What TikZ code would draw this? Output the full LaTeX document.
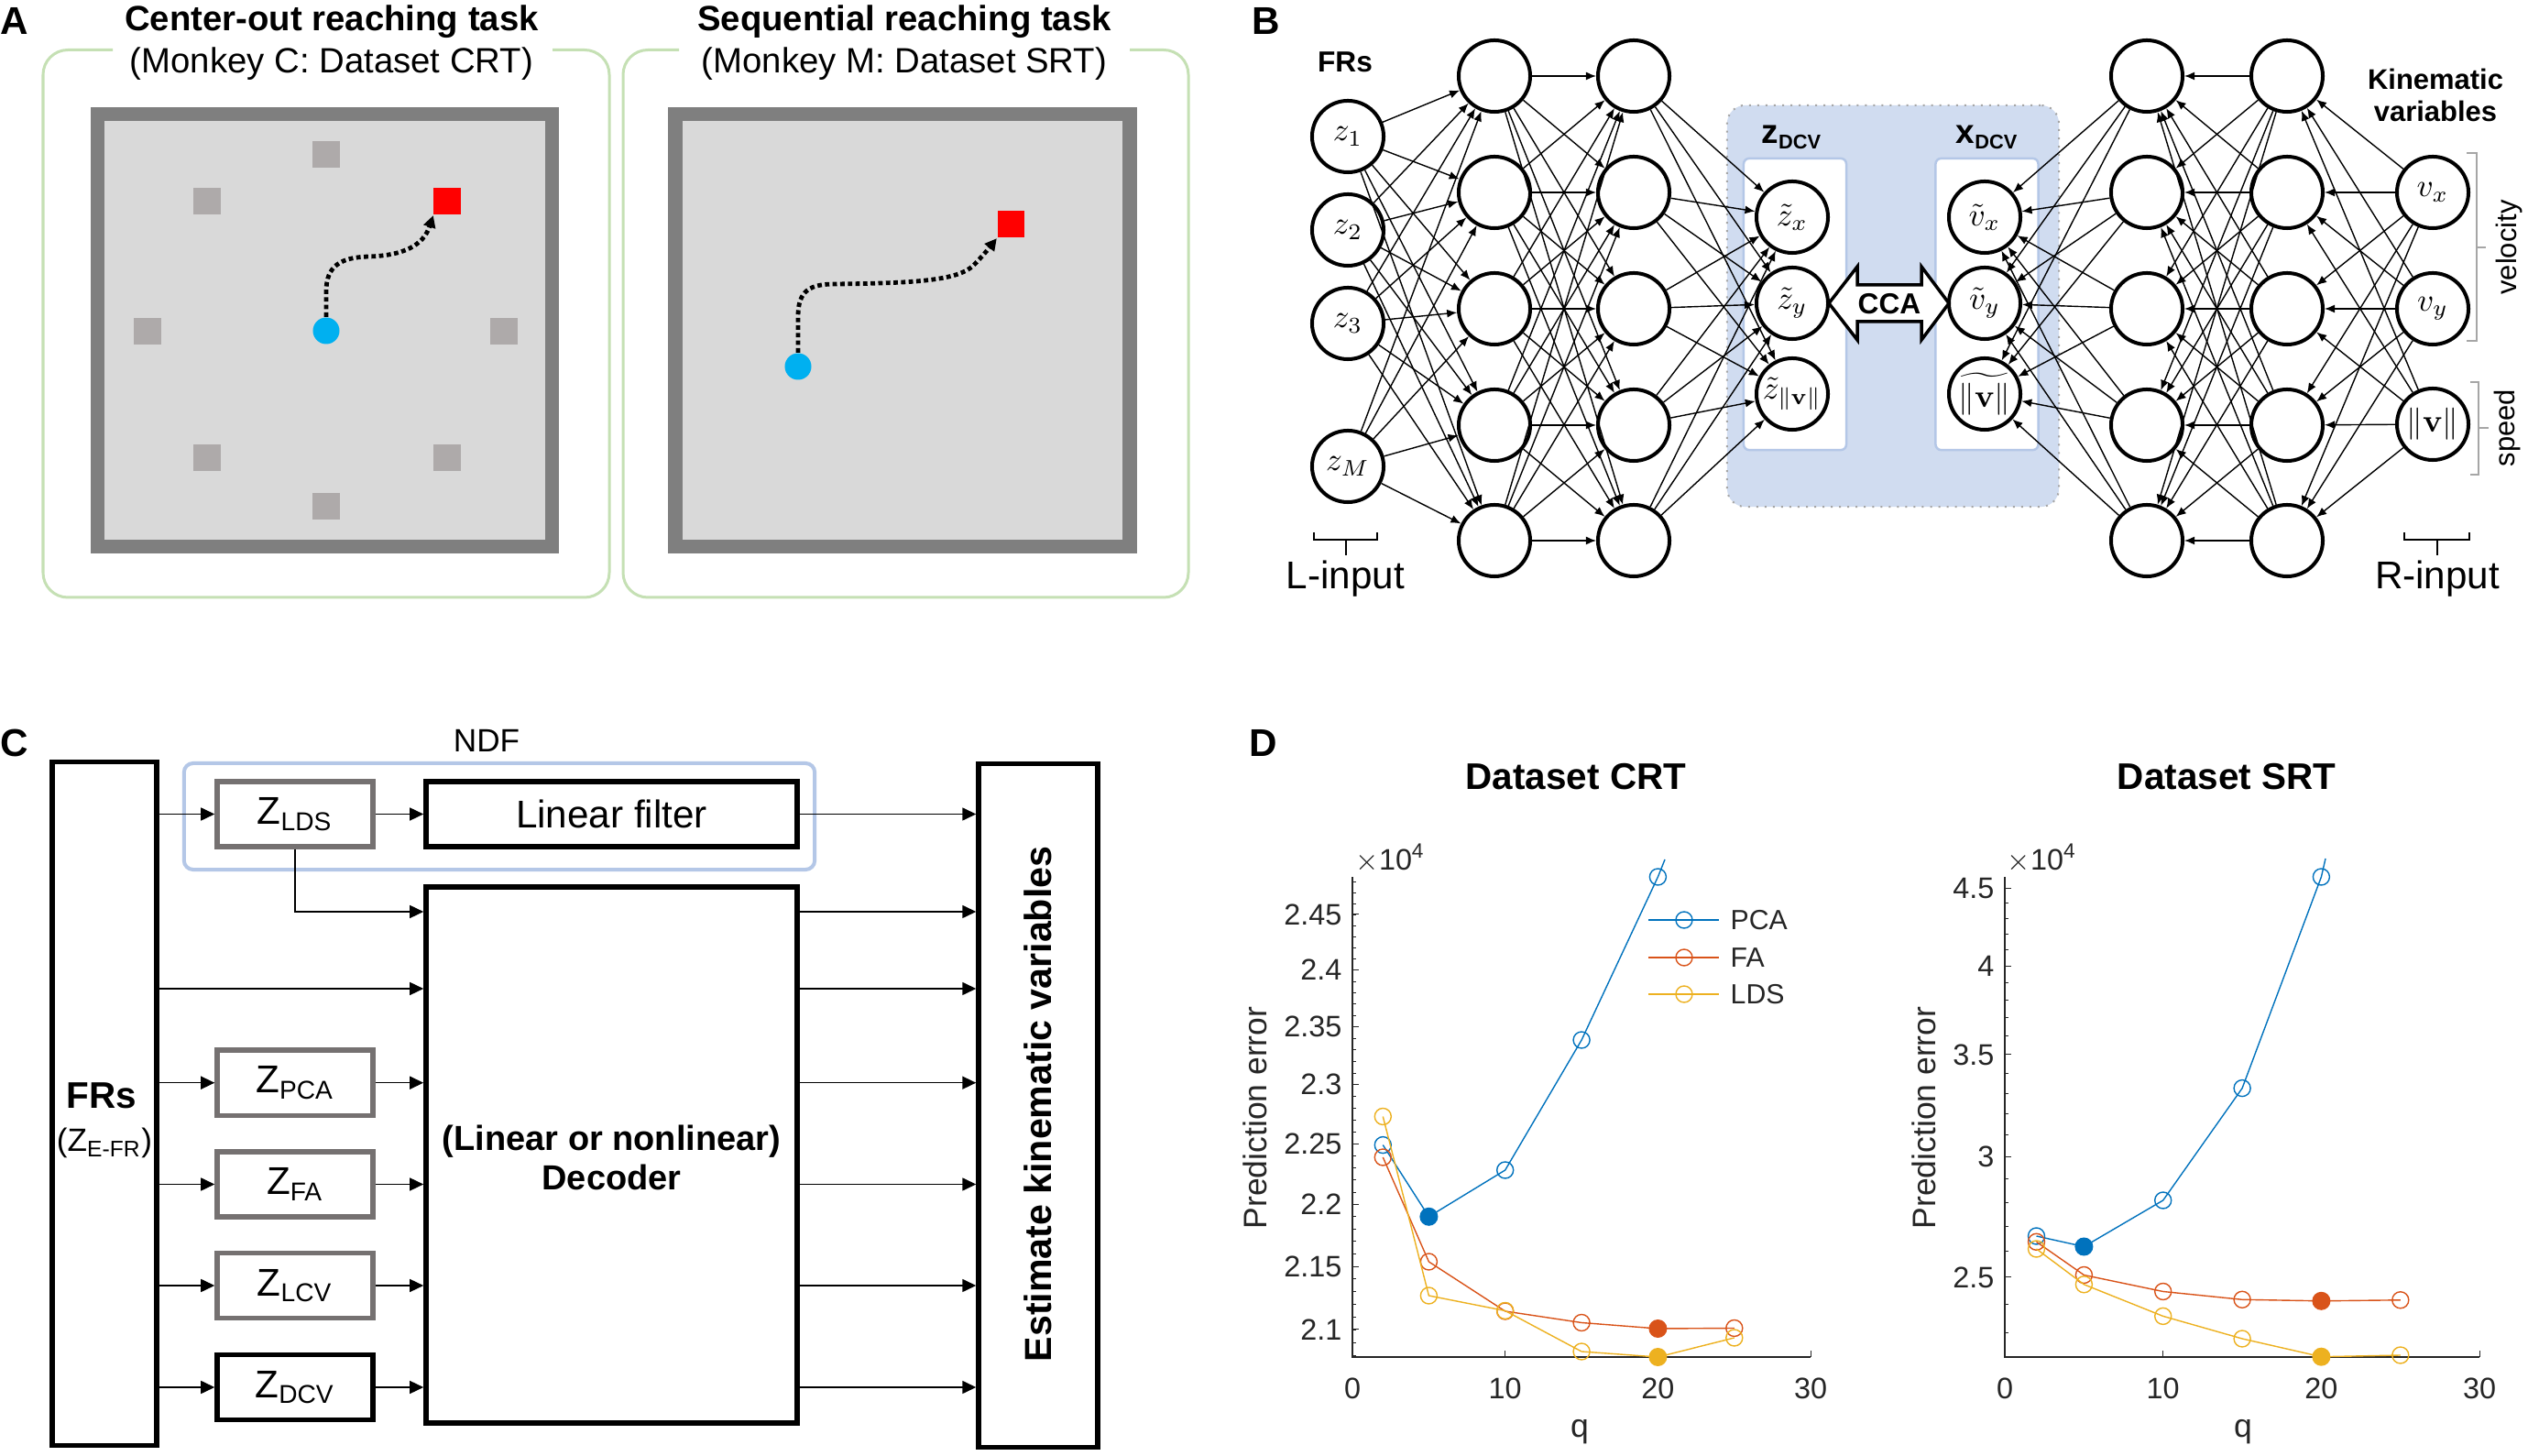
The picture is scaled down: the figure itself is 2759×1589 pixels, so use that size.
\documentclass[tikz,border=0pt]{standalone}
\usepackage[no-math]{fontspec}
\setmainfont{Liberation Sans}
\usetikzlibrary{arrows.meta}
\newcommand\setfs[1]{\fontsize{#1pt}{#1pt}\selectfont}
\definecolor{frameg}{HTML}{C5E0B4}
\definecolor{boxgray}{HTML}{7F7F7F}
\definecolor{fieldgray}{HTML}{D9D9D9}
\definecolor{tgtgray}{HTML}{AEAAAA}
\definecolor{cursorblue}{HTML}{00B0F0}
\definecolor{regionblue}{HTML}{D0DCF0}
\definecolor{edgeblue}{HTML}{B4C7E7}
\definecolor{zgray}{HTML}{757171}
\definecolor{brkgray}{HTML}{A6A6A6}
\definecolor{mpca}{HTML}{0072BD}
\definecolor{mfa}{HTML}{D95319}
\definecolor{mlds}{HTML}{EDB120}
\definecolor{axgray}{HTML}{262626}
\tikzset{
  panellbl/.style={anchor=base west, inner sep=0, font=\setfs{12}\bfseries},
  ttl/.style={anchor=base, inner sep=0, font=\setfs{10.9}\bfseries},
  subttl/.style={anchor=base, inner sep=0, font=\setfs{10.9}},
  frameline/.style={draw=frameg, line width=0.03cm, rounded corners=0.27cm},
  field/.style={draw=boxgray, fill=fieldgray, line width=0.156cm, minimum width=4.954cm, minimum height=4.714cm, inner sep=0},
  tgt/.style={fill=tgtgray, minimum size=0.29cm, inner sep=0},
  redtgt/.style={fill=red, minimum size=0.29cm, inner sep=0},
  cursor/.style={circle, fill=cursorblue, minimum size=0.29cm, inner sep=0},
  dotpath/.style={line width=0.048cm, dash pattern=on 0.048cm off 0.035cm, -{Triangle[length=0.13cm,width=0.13cm]}},
  neuron/.style={circle, draw, line width=0.04cm, fill=white, minimum size=0.78cm, inner sep=0, font=\setfs{10}},
  conn/.style={line width=0.014cm, -{Latex[length=0.11cm,width=0.09cm]}},
  region/.style={draw=gray!70, dotted, line width=0.02cm, fill=regionblue, rounded corners=0.2cm, inner sep=0, minimum width=3.62cm, minimum height=4.38cm},
  wbox/.style={draw=edgeblue, line width=0.025cm, fill=white, rounded corners=0.06cm, inner sep=0, minimum width=1.12cm, minimum height=3.18cm},
  brk/.style={line width=0.02cm},
  gbrk/.style={draw=brkgray, line width=0.02cm},
  zbox/.style={draw=zgray, line width=0.054cm, minimum width=1.70cm, minimum height=0.71cm, inner sep=0, font=\setfs{12}},
  bbox/.style={draw=black, line width=0.054cm, inner sep=0},
  arr/.style={line width=0.016cm, -{Triangle[length=0.15cm,width=0.14cm]}},
  tick/.style={draw=axgray, line width=0.01cm},
  ticklbl/.style={font=\setfs{9.2}, text=axgray, inner sep=0},
  dline/.style={line width=0.014cm},
}
\begin{document}
\begin{tikzpicture}[x=0.01cm,y=-0.01cm]
\path[use as bounding box, fill=white] (0,0) rectangle (2759,1589);

% ---------------- Panel labels
\node[panellbl] (labA) at (0,38) {A};
\node[panellbl] (labB) at (1366,38) {B};
\node[panellbl] (labC) at (0,826) {C};
\node[panellbl] (labD) at (1363,826) {D};

% ---------------- Panel A
\draw[frameline] (123,54.5) -- (47,54.5) -- (47,652) -- (665,652) -- (665,54.5) -- (603,54.5);
\draw[frameline] (741,54.5) -- (680,54.5) -- (680,652) -- (1297,652) -- (1297,54.5) -- (1233,54.5);
\node[ttl] (tA1) at (362,33.5) {Center-out reaching task};
\node[subttl] (tA2) at (362,79.5) {(Monkey C: Dataset CRT)};
\node[ttl] (tB1) at (987,33.5) {Sequential reaching task};
\node[subttl] (tB2) at (987,79.5) {(Monkey M: Dataset SRT)};
\node[field] (fieldL) at (354.5,360.5) {};
\node[field] (fieldR) at (985,360.5) {};
\node[tgt] (g1) at (356,169) {};
\node[tgt] (g2) at (226,220) {};
\node[tgt] (g3) at (161,362) {};
\node[tgt] (g4) at (550,362) {};
\node[tgt] (g5) at (226,500) {};
\node[tgt] (g6) at (488,500) {};
\node[tgt] (g7) at (356,553) {};
\node[redtgt] (redL) at (488,220) {};
\node[cursor] (curL) at (356,361) {};
\node[redtgt] (redR) at (1103,245) {};
\node[cursor] (curR) at (871,400) {};
\draw[dotpath] (curL.north) -- (356,318) .. controls (356,290) and (372,281) .. (402,280)
   .. controls (440,279) and (462,268) .. (redL.south west);
\draw[dotpath] (curR.north) -- (871,345) .. controls (871,316) and (885,310) .. (912,310)
   .. controls (1000,309) and (1045,306) .. (1062,290) .. controls (1072,280) and (1080,270) .. (redR.south west);

% ---------------- Panel B
\node[region] (dcv) at (2066,334) {};
\node[wbox] (zwb) at (1959,332) {};
\node[wbox] (xwb) at (2168.5,332) {};
\node[inner sep=0] (zlab) at (1955,150) {\setfs{10.5}\bfseries z\raisebox{-1.8pt}{\setfs{6.2}\bfseries DCV}};
\node[inner sep=0] (xlab) at (2168,150) {\setfs{10.5}\bfseries x\raisebox{-1.8pt}{\setfs{6.2}\bfseries DCV}};
\node[anchor=base, inner sep=0, font=\setfs{9}\bfseries] (frsB) at (1468,79) {FRs};
\node[align=center, inner sep=0, font=\fontsize{8.8pt}{10.2pt}\selectfont\bfseries] (kin) at (2658,104) {Kinematic\\variables};

\node[neuron] (in1) at (1471,149) {$z_1$};
\node[neuron] (in2) at (1471,251) {$z_2$};
\node[neuron] (in3) at (1471,353) {$z_3$};
\node[neuron] (in4) at (1471,509) {$z_M$};
\foreach \i/\y in {1/83,2/210,3/337,4/464,5/590} {
  \node[neuron] (a\i) at (1631,\y) {};
  \node[neuron] (b\i) at (1783,\y) {};
  \node[neuron] (c\i) at (2343,\y) {};
  \node[neuron] (d\i) at (2496,\y) {};
}
\node[neuron] (zd1) at (1956,237) {$\tilde{z}_x$};
\node[neuron] (zd2) at (1956,331) {$\tilde{z}_y$};
\node[neuron] (zd3) at (1956,430) {$\tilde{z}_{\|\mathbf{v}\|}$};
\node[neuron] (xd1) at (2166,237) {$\tilde{v}_x$};
\node[neuron] (xd2) at (2166,331) {$\tilde{v}_y$};
\node[neuron] (xd3) at (2166,430) {$\widetilde{\|\mathbf{v}\|}$};
\node[neuron] (o1) at (2655,210) {$v_x$};
\node[neuron] (o2) at (2655,337) {$v_y$};
\node[neuron] (o3) at (2655,463) {$\|\mathbf{v}\|$};

\foreach \i in {1,...,4} \foreach \j in {1,...,5} \draw[conn] (in\i) -- (a\j);
\foreach \i in {1,...,5} \foreach \j in {1,...,5} \draw[conn] (a\i) -- (b\j);
\foreach \i in {1,...,5} \foreach \j in {1,2,3} \draw[conn] (b\i) -- (zd\j);
\foreach \i in {1,2,3} \foreach \j in {1,...,5} \draw[conn] (o\i) -- (d\j);
\foreach \i in {1,...,5} \foreach \j in {1,...,5} \draw[conn] (d\i) -- (c\j);
\foreach \i in {1,...,5} \foreach \j in {1,2,3} \draw[conn] (c\i) -- (xd\j);

\draw[line width=0.035cm, fill=white] (1996,331) -- (2027,291) -- (2027,311) -- (2097,311) -- (2097,291)
  -- (2127,331) -- (2097,371) -- (2097,351) -- (2027,351) -- (2027,371) -- cycle;
\node[inner sep=0, font=\setfs{9}\bfseries] (cca) at (2062,332) {CCA};

\draw[brk] (1434,581) -- (1434,589) -- (1503,589) -- (1503,581);
\draw[brk] (1468.5,589) -- (1468.5,606);
\node[anchor=base, inner sep=0, font=\setfs{12}] (lin) at (1468.5,643) {L-input};
\draw[brk] (2624,581) -- (2624,589) -- (2695,589) -- (2695,581);
\draw[brk] (2659.5,589) -- (2659.5,606);
\node[anchor=base, inner sep=0, font=\setfs{12}] (rin) at (2660,643) {R-input};
\draw[gbrk] (2692,167) -- (2703,167) -- (2703,372) -- (2692,372);
\draw[gbrk] (2703,270) -- (2713,270);
\node[rotate=90, inner sep=0, font=\setfs{8.8}] (vel) at (2738,270) {velocity};
\draw[gbrk] (2696,417) -- (2705,417) -- (2705,518) -- (2696,518);
\draw[gbrk] (2705,467) -- (2716,467);
\node[rotate=90, inner sep=0, font=\setfs{8.8}] (spd) at (2736,467) {speed};

% ---------------- Panel C
\node[draw=edgeblue, line width=0.04cm, rounded corners=0.1cm, minimum width=6.88cm, minimum height=1.16cm, inner sep=0] (ndf) at (545,891) {};
\node[anchor=base, inner sep=0, font=\setfs{10}] (ndflbl) at (531,821) {NDF};
\node[bbox, minimum width=1.14cm, minimum height=7.45cm] (frs) at (114,1204.5) {};
\node[anchor=base, inner sep=0, font=\setfs{11.5}\bfseries] (frst) at (111,1210) {FRs};
\node[anchor=base, inner sep=0, font=\setfs{10}] (frsz) at (114,1257) {(Z\textsubscript{E-FR})};
\node[zbox] (zlds) at (322,888.5) {Z\textsubscript{LDS}};
\node[zbox] (zpca) at (322,1181.7) {Z\textsubscript{PCA}};
\node[zbox] (zfa) at (322,1292.5) {Z\textsubscript{FA}};
\node[zbox] (zlcv) at (322,1403) {Z\textsubscript{LCV}};
\node[zbox, draw=black] (zdcv) at (322,1514) {Z\textsubscript{DCV}};
\node[bbox, minimum width=4.05cm, minimum height=0.71cm, font=\setfs{12}] (linf) at (667.5,888.5) {Linear filter};
\node[bbox, minimum width=4.05cm, minimum height=5.85cm] (dec) at (667.5,1260.5) {};
\node[align=center, inner sep=0, font=\fontsize{10.8pt}{12.2pt}\selectfont\bfseries] (dect) at (667.5,1263) {(Linear or nonlinear)\\Decoder};
\node[bbox, minimum width=1.30cm, minimum height=7.45cm] (est) at (1133,1206.5) {};
\node[rotate=90, inner sep=0, font=\setfs{11.7}\bfseries] (estt) at (1133,1205) {Estimate kinematic variables};

\coordinate (yA) at (0,995);
\coordinate (yB) at (0,1079);
\foreach \z in {zlds,zpca,zfa,zlcv,zdcv} \draw[arr] (frs.east |- \z.west) -- (\z.west);
\draw[arr] (zlds.east) -- (linf.west);
\draw[arr] (linf.east) -- (est.west |- linf.east);
\draw[arr] (zlds.south) |- (dec.west |- yA);
\draw[arr] (frs.east |- yB) -- (dec.west |- yB);
\foreach \z in {zpca,zfa,zlcv,zdcv} {
  \draw[arr] (\z.east) -- (dec.west |- \z.east);
  \draw[arr] (dec.east |- \z.east) -- (est.west |- \z.east);
}
\draw[arr] (dec.east |- yA) -- (est.west |- yA);
\draw[arr] (dec.east |- yB) -- (est.west |- yB);

% ---------------- Panel D : CRT
\node[anchor=base, inner sep=0, font=\setfs{11.5}\bfseries] (ttlcrt) at (1720,862) {Dataset CRT};
\node[anchor=base, inner sep=0, font=\setfs{11.5}\bfseries] (ttlsrt) at (2430,862) {Dataset SRT};
\draw[axgray, line width=0.012cm] (1476,957) -- (1476,1481) -- (1976,1481);
\foreach \q in {0,10,20,30} {
  \draw[tick] ({1476+16.67*\q},1481) -- ({1476+16.67*\q},1474);
  \node[ticklbl, anchor=base] at ({1476+16.67*\q},1527) {\q};
}
\foreach \v in {2.08,2.09,...,2.485} {
  \pgfmathsetmacro\yy{1450.8-2939*ln(\v/2.1)}
  \draw[tick] (1476,\yy) -- (1480,\yy);
}
\foreach \v in {2.1,2.15,2.2,2.25,2.3,2.35,2.4,2.45} {
  \pgfmathsetmacro\yy{1450.8-2939*ln(\v/2.1)}
  \draw[tick] (1476,\yy) -- (1483,\yy);
  \node[ticklbl, anchor=east] at (1465,\yy) {\v};
}
\node[anchor=base west, inner sep=0, font=\setfs{9.2}, text=axgray] (xa) at (1479,950) {$\times$10\textsuperscript{4}};
\node[rotate=90, inner sep=0, font=\setfs{10.1}, text=axgray] (yla) at (1370,1220) {Prediction error};
\node[anchor=base, inner sep=0, font=\setfs{10.1}, text=axgray] (qla) at (1724,1569) {q};

\draw[mpca, dline] (1509.3,1249.6) -- (1559.4,1327.8) -- (1642.7,1277) -- (1726.1,1135) -- (1809.4,957) -- (1817,938);
\foreach \p in {{1509.3,1249.6},{1642.7,1277},{1726.1,1135},{1809.4,957}} \draw[mpca, dline] (\p) circle[radius=0.09cm];
\fill[mpca] (1559.4,1327.8) circle[radius=0.1cm];
\draw[mfa, dline] (1509.3,1263) -- (1559.4,1377) -- (1642.7,1431) -- (1726.1,1443.5) -- (1809.4,1450) -- (1892.8,1449.5);
\foreach \p in {{1509.3,1263},{1559.4,1377},{1642.7,1431},{1726.1,1443.5},{1892.8,1449.5}} \draw[mfa, dline] (\p) circle[radius=0.09cm];
\fill[mfa] (1809.4,1450) circle[radius=0.1cm];
\draw[mlds, dline] (1509.3,1218.5) -- (1559.4,1414) -- (1642.7,1430.5) -- (1726.1,1475) -- (1809.4,1481) -- (1892.8,1460);
\foreach \p in {{1509.3,1218.5},{1559.4,1414},{1642.7,1430.5},{1726.1,1475},{1892.8,1460}} \draw[mlds, dline] (\p) circle[radius=0.09cm];
\fill[mlds] (1809.4,1481) circle[radius=0.1cm];

% legend
\foreach \c/\y/\t in {mpca/1004/PCA, mfa/1045/FA, mlds/1085/LDS} {
  \draw[\c, dline] (1799,\y) -- (1876,\y);
  \draw[\c, dline] (1838,\y) circle[radius=0.09cm];
  \node[anchor=west, inner sep=0, font=\setfs{8.6}, text=axgray] at (1888,\y) {\t};
}

% ---------------- Panel D : SRT
\draw[axgray, line width=0.012cm] (2188,957) -- (2188,1481) -- (2706,1481);
\foreach \q in {0,10,20,30} {
  \draw[tick] ({2188+17.27*\q},1481) -- ({2188+17.27*\q},1474);
  \node[ticklbl, anchor=base] at ({2188+17.27*\q},1527) {\q};
}
\foreach \v in {2.3,2.4,...,4.55} {
  \pgfmathsetmacro\yy{1394-722.4*ln(\v/2.5)}
  \draw[tick] (2188,\yy) -- (2192,\yy);
}
\foreach \v in {2.5,3,3.5,4,4.5} {
  \pgfmathsetmacro\yy{1394-722.4*ln(\v/2.5)}
  \draw[tick] (2188,\yy) -- (2195,\yy);
  \node[ticklbl, anchor=east] at (2177,\yy) {\v};
}
\node[anchor=base west, inner sep=0, font=\setfs{9.2}, text=axgray] (xb) at (2190,950) {$\times$10\textsuperscript{4}};
\node[rotate=90, inner sep=0, font=\setfs{10.1}, text=axgray] (ylb) at (2100,1220) {Prediction error};
\node[anchor=base, inner sep=0, font=\setfs{10.1}, text=axgray] (qlb) at (2448,1569) {q};

\draw[mpca, dline] (2222.5,1349) -- (2274.4,1360.5) -- (2360.7,1310) -- (2447.1,1187.6) -- (2533.4,957) -- (2538,937);
\foreach \p in {{2222.5,1349},{2360.7,1310},{2447.1,1187.6},{2533.4,957}} \draw[mpca, dline] (\p) circle[radius=0.09cm];
\fill[mpca] (2274.4,1360.5) circle[radius=0.1cm];
\draw[mfa, dline] (2222.5,1355.3) -- (2274.4,1391.5) -- (2360.7,1409.5) -- (2447.1,1418.3) -- (2533.4,1419.8) -- (2619.8,1418.8);
\foreach \p in {{2222.5,1355.3},{2274.4,1391.5},{2360.7,1409.5},{2447.1,1418.3},{2619.8,1418.8}} \draw[mfa, dline] (\p) circle[radius=0.09cm];
\fill[mfa] (2533.4,1419.8) circle[radius=0.1cm];
\draw[mlds, dline] (2222.5,1363) -- (2274.4,1401.8) -- (2360.7,1436.4) -- (2447.1,1461) -- (2533.4,1480.7) -- (2619.8,1479);
\foreach \p in {{2222.5,1363},{2274.4,1401.8},{2360.7,1436.4},{2447.1,1461},{2619.8,1479}} \draw[mlds, dline] (\p) circle[radius=0.09cm];
\fill[mlds] (2533.4,1480.7) circle[radius=0.1cm];
\end{tikzpicture}
\end{document}
